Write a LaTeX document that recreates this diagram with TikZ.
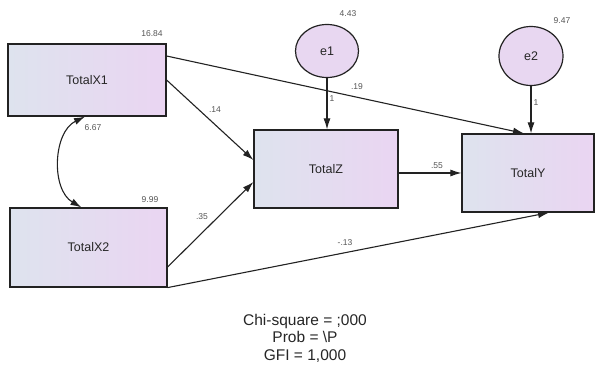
\documentclass[tikz,border=0pt]{standalone}
\usepackage{fontspec}
\setmainfont{Liberation Sans}
\usetikzlibrary{arrows.meta,calc,shapes.geometric}
\definecolor{boxL}{HTML}{DEE3EE}
\definecolor{boxR}{HTML}{EAD5F2}
\definecolor{lineC}{HTML}{222222}
\definecolor{lblC}{HTML}{555555}
\tikzset{
  varbox/.style={draw=lineC, line width=1.2pt, left color=boxL, right color=boxR, inner sep=0pt, font=\fontsize{12.5}{14}\selectfont, text=black!85},
  errc/.style={draw=lineC, line width=1.2pt, ellipse, fill=boxR!85!boxL, inner sep=0pt, font=\fontsize{12.5}{14}\selectfont, text=black!85},
  path/.style={draw=lineC, line width=1.1pt, -{Latex[length=11pt,width=7pt]}},
  lbl/.style={font=\fontsize{8.5}{9}\selectfont, text=lblC, inner sep=0pt},
}
\begin{document}
\begin{tikzpicture}[x=1pt,y=-1pt]
\useasboundingbox[fill=white] (0,0) rectangle (595,366);
% variables
\node[varbox, minimum width=158pt, minimum height=72pt] (X1) at (87,80) {TotalX1};
\node[varbox, minimum width=157pt, minimum height=79pt] (X2) at (88.5,247.5) {TotalX2};
\node[varbox, minimum width=144pt, minimum height=78pt] (Z) at (326,169) {TotalZ};
\node[varbox, minimum width=132pt, minimum height=78pt] (Y) at (528,173) {TotalY};
\node[errc, minimum width=63pt, minimum height=53pt] (e1) at (327,51) {e1};
\node[errc, minimum width=64pt, minimum height=59pt] (e2) at (531,56) {e2};
% paths
\draw[path] ([yshift=24pt]X1.east) -- ([xshift=-4pt]Y.north);
\draw[path] (X1.east) -- ([yshift=9pt]Z.west);
\draw[path] ([yshift=-19.5pt]X2.east) -- ([yshift=-13pt]Z.west);
\draw[path] (X2.south east) -- ([xshift=21pt]Y.south);
\draw[path] ([yshift=-4pt]Z.east) -- ([yshift=-4pt]Z.east -| Y.west);
\draw[path] (e1.south) -- (e1.south |- Z.north);
\draw[path] (e2.south) -- (e2.south |- Y.north);
\draw[draw=lineC, line width=1.1pt, {Latex[length=11pt,width=7pt]}-{Latex[length=11pt,width=7pt]}] ([xshift=-2pt]X1.south) to[bend right=62] ([xshift=-7pt]X2.north);
% labels
\node[lbl] (l1) at (152,34) {16.84};
\node[lbl] (l2) at (150,200) {9.99};
\node[lbl] (l3) at (348,14) {4.43};
\node[lbl] (l4) at (562,21) {9.47};
\node[lbl] (l5) at (93,128) {6.67};
\node[lbl] (l6) at (357,87) {.19};
\node[lbl] (l7) at (215,110) {.14};
\node[lbl] (l8) at (202,217) {.35};
\node[lbl] (l9) at (345,243) {-.13};
\node[lbl] (l10) at (437,166) {.55};
\node[lbl] (l11) at (332,99) {1};
\node[lbl] (l12) at (536,103) {1};
% fit text
\node[align=center, font=\fontsize{15.5}{17.5}\selectfont, text=black!85, inner sep=0pt] (fit) at (305,338) {Chi-square = ;000\\Prob = \textbackslash P\\GFI = 1,000};
\end{tikzpicture}
\end{document}
